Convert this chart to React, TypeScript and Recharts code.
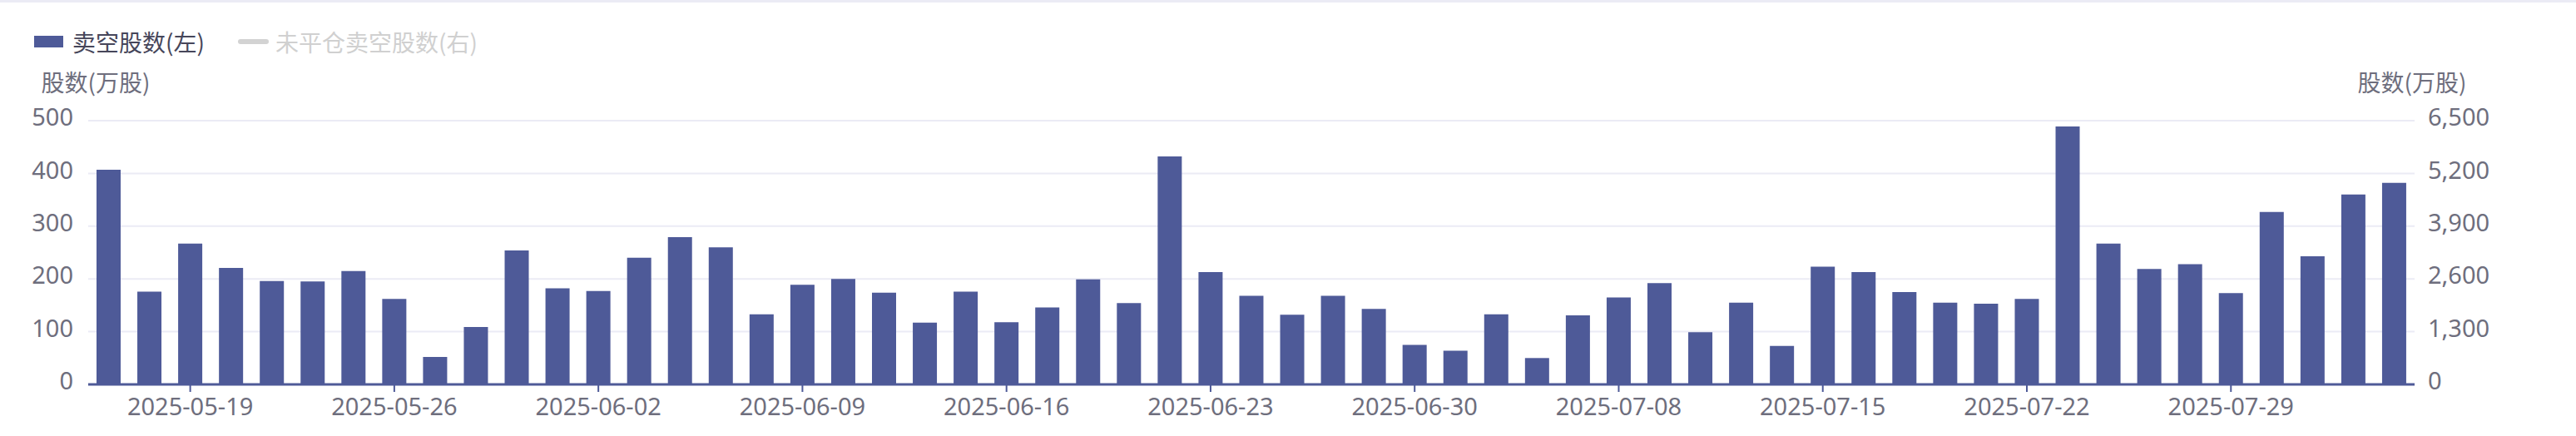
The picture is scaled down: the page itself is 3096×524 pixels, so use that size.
import { BarChart, Bar, XAxis, YAxis, CartesianGrid } from "recharts";

const dates = [
  "2025-05-15", "2025-05-16", "2025-05-19", "2025-05-20", "2025-05-21", "2025-05-22",
  "2025-05-23", "2025-05-26", "2025-05-27", "2025-05-28", "2025-05-29", "2025-05-30",
  "2025-06-02", "2025-06-03", "2025-06-04", "2025-06-05", "2025-06-06", "2025-06-09",
  "2025-06-10", "2025-06-11", "2025-06-12", "2025-06-13", "2025-06-16", "2025-06-17",
  "2025-06-18", "2025-06-19", "2025-06-20", "2025-06-23", "2025-06-24", "2025-06-25",
  "2025-06-26", "2025-06-27", "2025-06-30", "2025-07-02", "2025-07-03", "2025-07-04",
  "2025-07-07", "2025-07-08", "2025-07-09", "2025-07-10", "2025-07-11", "2025-07-14",
  "2025-07-15", "2025-07-16", "2025-07-17", "2025-07-18", "2025-07-21", "2025-07-22",
  "2025-07-23", "2025-07-24", "2025-07-25", "2025-07-28", "2025-07-29", "2025-07-30",
  "2025-07-31", "2025-08-01", "2025-08-04",
];

// 卖空股数(万股)
const shortShares = [
  407, 176, 267, 221, 196, 195, 215, 162, 52, 109, 254, 182,
  177, 240, 279, 260, 133, 189, 200, 174, 117, 176, 118, 146,
  199, 154, 432, 213, 168, 132, 168, 143, 75, 64, 133, 50,
  131, 165, 192, 99, 155, 73, 223, 213, 175, 155, 153, 162,
  489, 267, 219, 228, 173, 327, 243, 360, 382,
];

const xTicks = [
  "2025-05-19", "2025-05-26", "2025-06-02", "2025-06-09", "2025-06-16", "2025-06-23",
  "2025-06-30", "2025-07-08", "2025-07-15", "2025-07-22", "2025-07-29",
];
const leftTicks = [0, 100, 200, 300, 400, 500];
const rightTicks = [0, 1300, 2600, 3900, 5200, 6500];

const data = dates.map((d, i) => ({ date: d, short: shortShares[i] }));

const CJK = '"Noto Sans CJK SC", sans-serif';
const NUM = '"Noto Sans", "Noto Sans CJK SC", sans-serif';
const BAR = "#4e5a98";
const LABEL = "#6e6e7d";

function LegendBox() {
  return (
    <div style={{ position: "absolute", left: 41, top: 35, display: "flex", alignItems: "center", fontFamily: CJK, fontSize: 28, lineHeight: "30px" }}>
      <span style={{ width: 35, height: 14, background: BAR, display: "inline-block", marginRight: 11 }} />
      <span style={{ color: "#46465a" }}>卖空股数(左)</span>
      <span style={{ width: 37, height: 6, borderRadius: 3, background: "#d3d3d3", display: "inline-block", marginLeft: 40, marginRight: 8 }} />
      <span style={{ color: "#d0d0d0" }}>未平仓卖空股数(右)</span>
    </div>
  );
}

export default function App() {
  return (
    <div style={{ position: "absolute", left: 0, top: 0, width: 3096, height: 524, background: "#fff" }}>
      <div style={{ position: "absolute", left: 0, top: 0, width: 3096, height: 3, background: "#ebebf5" }} />
      <LegendBox />
      <BarChart width={3096} height={524} data={data} margin={{ top: 145, right: 0, bottom: 0, left: 0 }} barSize={29}>
        <CartesianGrid vertical={false} stroke="#ebebf5" strokeWidth={2} yAxisId="left" />
        <XAxis
          dataKey="date"
          ticks={xTicks}
          interval={0}
          height={62}
          tickSize={9}
          tickMargin={7}
          axisLine={{ stroke: BAR, strokeWidth: 3 }}
          tickLine={{ stroke: BAR, strokeWidth: 2 }}
          tick={{ fill: LABEL, fontSize: 29, fontFamily: NUM }}
        />
        <YAxis
          yAxisId="left"
          width={106}
          domain={[0, 500]}
          ticks={leftTicks}
          axisLine={false}
          tickLine={false}
          tickSize={0}
          tickMargin={18}
          tick={{ fill: LABEL, fontSize: 29, fontFamily: NUM, dy: -4 }}
          label={(p: any) => (
            <text x={p.viewBox.x + p.viewBox.width + 9} y={p.viewBox.y - 35} textAnchor="middle" fill={LABEL} fontSize={28} fontFamily={CJK}>
              股数(万股)
            </text>
          )}
        />
        <YAxis
          yAxisId="right"
          orientation="right"
          width={194}
          domain={[0, 6500]}
          allowDataOverflow
          ticks={rightTicks}
          axisLine={false}
          tickLine={false}
          tickSize={0}
          tickMargin={16}
          tickFormatter={(v: number) => v.toLocaleString("en-US")}
          tick={{ fill: LABEL, fontSize: 29, fontFamily: NUM, dy: -4 }}
          label={(p: any) => (
            <text x={p.viewBox.x - 3} y={p.viewBox.y - 35} textAnchor="middle" fill={LABEL} fontSize={28} fontFamily={CJK}>
              股数(万股)
            </text>
          )}
        />
        <Bar yAxisId="left" dataKey="short" name="卖空股数(左)" fill={BAR} isAnimationActive={false} />
      </BarChart>
    </div>
  );
}
